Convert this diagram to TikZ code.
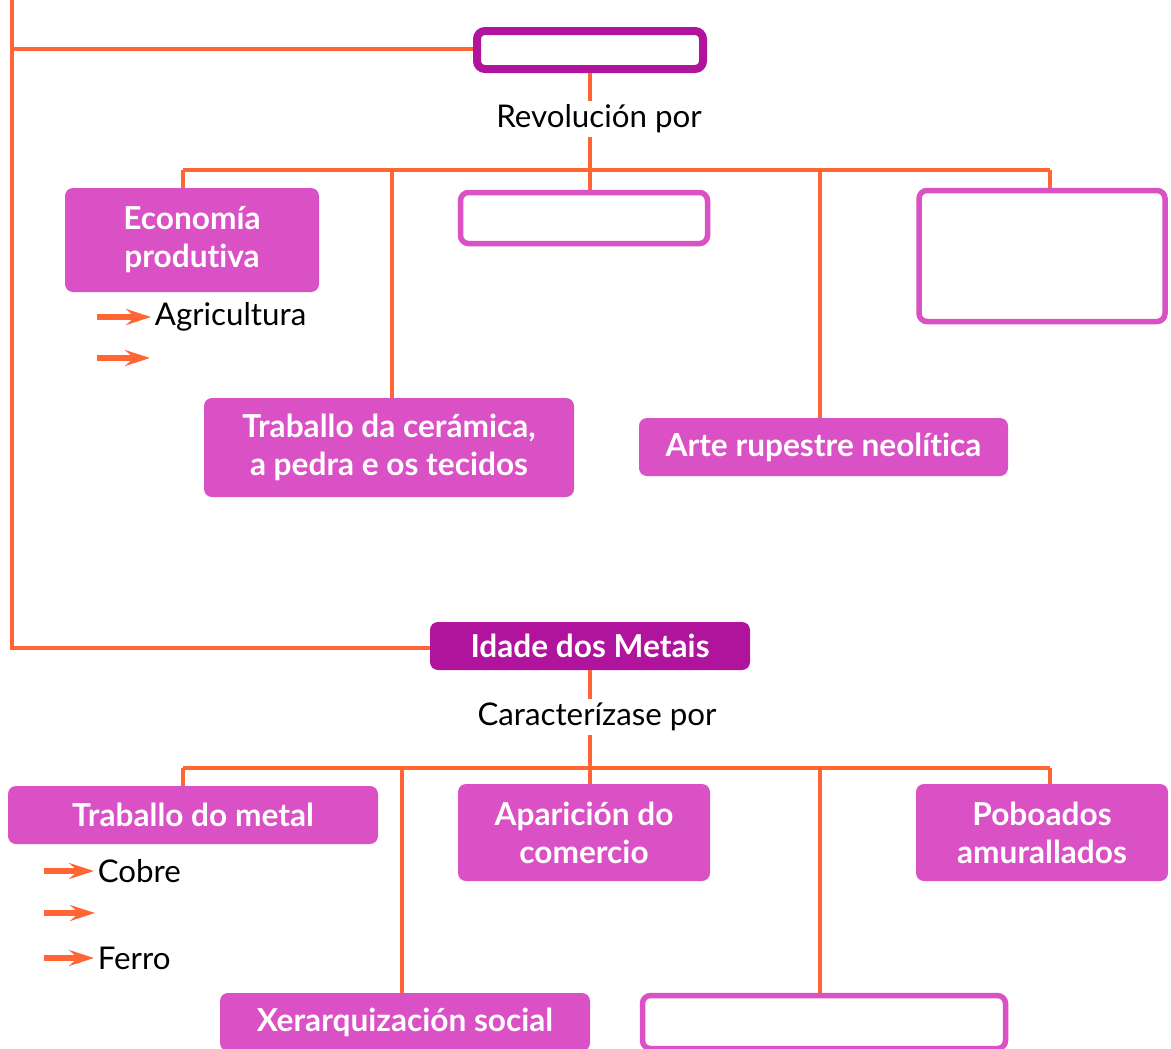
\documentclass[tikz,border=0pt]{standalone}
\usepackage{fontspec}
\setmainfont{Lato}[RawFeature={-liga;-dlig;-clig;-calt}]
\usetikzlibrary{arrows.meta}
\definecolor{linec}{HTML}{FF6633}
\definecolor{boxc}{HTML}{DA50C5}
\definecolor{darkc}{HTML}{B0149D}
\begin{document}
\begin{tikzpicture}[x=0.02cm,y=-0.02cm,
  conn/.style={draw=linec, line width=0.08cm},
  arr/.style={draw=linec, line width=0.11cm, -{Stealth[length=0.5cm,width=0.32cm,inset=0.18cm]}},
  fillbox/.style={fill=boxc, rounded corners=0.16cm, text=white, align=center,
    font=\fontsize{18}{21.6}\selectfont\bfseries, inner sep=0pt},
  blankbox/.style={draw=boxc, fill=white, line width=0.11cm, rounded corners=0.16cm, inner sep=0pt},
  word/.style={text=black, font=\fontsize{17.8}{21}\selectfont, inner sep=2pt}]
\useasboundingbox (0,0) rectangle (1171,1049);
% upper part
\node[draw=darkc, fill=white, line width=0.16cm, rounded corners=0.16cm, inner sep=0pt,
  minimum width=226*0.02cm, minimum height=38*0.02cm] (top) at (590,50){};
\node[word] (rev) at (599,119){Revolución por};
\node[fillbox, minimum width=254*0.02cm, minimum height=104*0.02cm] (econ) at (192,240){Economía\\produtiva};
\node[blankbox, minimum width=247*0.02cm, minimum height=51*0.02cm] (blankA) at (584,218){};
\node[blankbox, minimum width=246*0.02cm, minimum height=131*0.02cm] (blankB) at (1042,256){};
\node[fillbox, minimum width=370*0.02cm, minimum height=99*0.02cm] (ceram) at (389,447.5){Traballo da cerámica,\\a pedra e os tecidos};
\node[fillbox, minimum width=369*0.02cm, minimum height=58*0.02cm] (arte) at (823.5,447){Arte rupestre neolítica};
\node[word, anchor=west] (agri) at (151,317){Agricultura};
\coordinate (arrA) at (97,317);
\coordinate (arrB) at (97,358);
\coordinate (arrBend) at (150,358);
\draw[arr] (arrA) -- (agri.west);
\draw[arr] (arrB) -- (arrBend);
\coordinate (busA) at (590,170);
\coordinate (busAl) at (183,170);
\coordinate (busAr) at (1050,170);
\draw[conn] (top.south) -- (top.south |- rev.north);
\draw[conn] (top.south |- rev.south) -- (busA);
\draw[conn] (busAl) -- (busAr);
\draw[conn] (busAl) -- (busAl |- econ.north);
\draw[conn] (392,170) -- (392,0 |- ceram.north);
\draw[conn] (busA) -- (busA |- blankA.north);
\draw[conn] (820,170) -- (820,0 |- arte.north);
\draw[conn] (busAr) -- (busAr |- blankB.north);
% lower part
\node[fill=darkc, rounded corners=0.16cm, text=white, inner sep=0pt,
  font=\fontsize{18}{21.6}\selectfont\bfseries,
  minimum width=320*0.02cm, minimum height=48*0.02cm] (metais) at (590,646){Idade dos Metais};
\node[word] (carac) at (597,717){Caracterízase por};
\node[fillbox, minimum width=370*0.02cm, minimum height=58*0.02cm] (metal) at (193,815){Traballo do metal};
\node[fillbox, minimum width=252*0.02cm, minimum height=97*0.02cm] (comercio) at (584,832.5){Aparición do\\comercio};
\node[fillbox, minimum width=252*0.02cm, minimum height=97*0.02cm] (poboados) at (1042,832.5){Poboados\\amurallados};
\node[fillbox, minimum width=370*0.02cm, minimum height=58*0.02cm] (xerarq) at (405,1022){Xerarquización social};
\node[blankbox, minimum width=363*0.02cm, minimum height=53*0.02cm] (blankC) at (824,1022){};
\node[word, anchor=west] (cobre) at (94,871){Cobre};
\node[word, anchor=west] (ferro) at (94,958){Ferro};
\coordinate (arrC) at (44,871);
\coordinate (arrD) at (44,913);
\coordinate (arrDend) at (95,913);
\coordinate (arrE) at (44,958);
\draw[arr] (arrC) -- (cobre.west);
\draw[arr] (arrD) -- (arrDend);
\draw[arr] (arrE) -- (ferro.west);
\coordinate (busB) at (590,768);
\coordinate (busBl) at (183,768);
\coordinate (busBr) at (1050,768);
\draw[conn] (metais.south) -- (metais.south |- carac.north);
\draw[conn] (metais.south |- carac.south) -- (busB);
\draw[conn] (busBl) -- (busBr);
\draw[conn] (busBl) -- (busBl |- metal.north);
\draw[conn] (402,768) -- (402,0 |- xerarq.north);
\draw[conn] (busB) -- (busB |- comercio.north);
\draw[conn] (820,768) -- (820,0 |- blankC.north);
\draw[conn] (busBr) -- (busBr |- poboados.north);
% left link
\coordinate (edgeT) at (12,0);
\coordinate (edgeA) at (12,49);
\coordinate (edgeB) at (12,648);
\draw[conn] (edgeT) -- (edgeB) -- (metais.west |- edgeB);
\draw[conn] (edgeA) -- (top.west |- edgeA);
\end{tikzpicture}
\end{document}
